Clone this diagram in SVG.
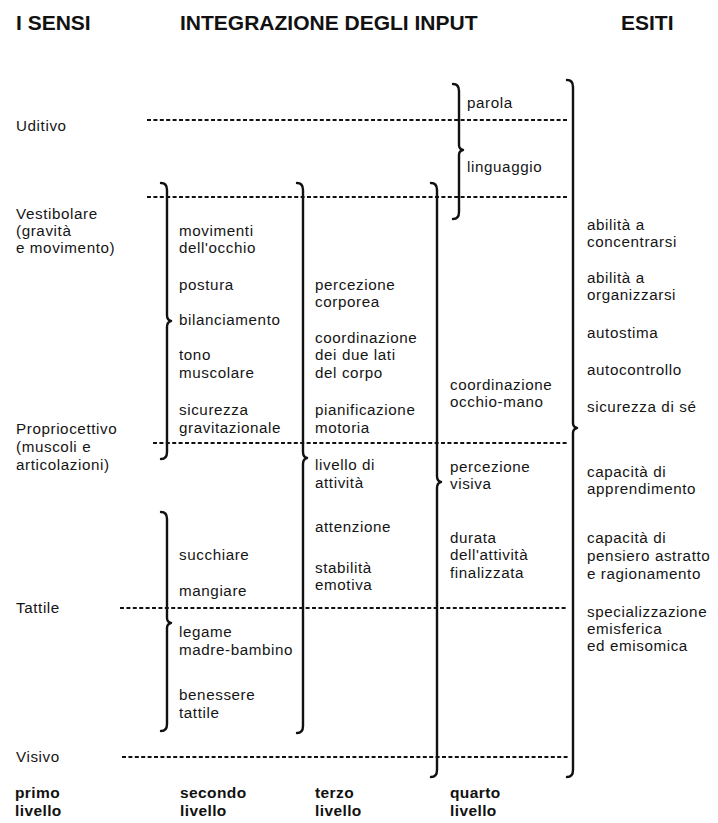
<svg xmlns="http://www.w3.org/2000/svg" width="718" height="823" viewBox="0 0 718 823">
  <style>
    .head { font-family: "Liberation Sans", Arial, sans-serif; font-weight: bold; font-size: 21px; fill: #111; }
    .lvl { font-family: "Liberation Sans", Arial, sans-serif; font-weight: bold; font-size: 15.5px; letter-spacing: 0.4px; fill: #111; }
    .t { font-family: "Liberation Sans", Arial, sans-serif; font-size: 15.2px; letter-spacing: 0.6px; fill: #151515; }
    .dot { stroke: #111; stroke-width: 2; stroke-dasharray: 4 2.4; fill: none; }
    .brace { stroke: #111; stroke-width: 2.4; fill: none; stroke-linecap: round; stroke-linejoin: round; }
  </style>
  <rect width="718" height="823" fill="#ffffff"/>

  <!-- column headers -->
  <g id="headers">
    <text class="head" x="16" y="30">I SENSI</text>
    <text class="head" x="180" y="30">INTEGRAZIONE DEGLI INPUT</text>
    <text class="head" x="621" y="30">ESITI</text>
  </g>

  <!-- senses (first column) -->
  <g id="sense-uditivo"><text class="t" x="16" y="131">Uditivo</text></g>
  <g id="sense-vestibolare">
    <text class="t" x="16" y="219">Vestibolare</text>
    <text class="t" x="16" y="236">(gravità</text>
    <text class="t" x="16" y="253">e movimento)</text>
  </g>
  <g id="sense-propriocettivo">
    <text class="t" x="16" y="434">Propriocettivo</text>
    <text class="t" x="16" y="452">(muscoli e</text>
    <text class="t" x="16" y="470">articolazioni)</text>
  </g>
  <g id="sense-tattile"><text class="t" x="16" y="613">Tattile</text></g>
  <g id="sense-visivo"><text class="t" x="16" y="762">Visivo</text></g>

  <!-- second level -->
  <g id="l2-vestibolare">
    <text class="t" x="179" y="236">movimenti</text>
    <text class="t" x="179" y="253">dell'occhio</text>
    <text class="t" x="179" y="290">postura</text>
    <text class="t" x="179" y="325">bilanciamento</text>
    <text class="t" x="179" y="360">tono</text>
    <text class="t" x="179" y="378">muscolare</text>
    <text class="t" x="179" y="415">sicurezza</text>
    <text class="t" x="179" y="433">gravitazionale</text>
  </g>
  <g id="l2-tattile">
    <text class="t" x="179" y="560">succhiare</text>
    <text class="t" x="179" y="596">mangiare</text>
    <text class="t" x="179" y="637">legame</text>
    <text class="t" x="179" y="655">madre-bambino</text>
    <text class="t" x="179" y="700">benessere</text>
    <text class="t" x="179" y="718">tattile</text>
  </g>

  <!-- third level -->
  <g id="l3">
    <text class="t" x="315" y="290">percezione</text>
    <text class="t" x="315" y="307">corporea</text>
    <text class="t" x="315" y="343">coordinazione</text>
    <text class="t" x="315" y="360">dei due lati</text>
    <text class="t" x="315" y="378">del corpo</text>
    <text class="t" x="315" y="415">pianificazione</text>
    <text class="t" x="315" y="433">motoria</text>
    <text class="t" x="315" y="470">livello di</text>
    <text class="t" x="315" y="488">attività</text>
    <text class="t" x="315" y="532">attenzione</text>
    <text class="t" x="315" y="573">stabilità</text>
    <text class="t" x="315" y="590">emotiva</text>
  </g>

  <!-- fourth level -->
  <g id="l4-linguaggio">
    <text class="t" x="467" y="108">parola</text>
    <text class="t" x="467" y="172">linguaggio</text>
  </g>
  <g id="l4">
    <text class="t" x="450" y="390">coordinazione</text>
    <text class="t" x="450" y="407">occhio-mano</text>
    <text class="t" x="450" y="472">percezione</text>
    <text class="t" x="450" y="489">visiva</text>
    <text class="t" x="450" y="543">durata</text>
    <text class="t" x="450" y="560">dell'attività</text>
    <text class="t" x="450" y="578">finalizzata</text>
  </g>

  <!-- outcomes -->
  <g id="esiti">
    <text class="t" x="587" y="230">abilità a</text>
    <text class="t" x="587" y="247">concentrarsi</text>
    <text class="t" x="587" y="283">abilità a</text>
    <text class="t" x="587" y="300">organizzarsi</text>
    <text class="t" x="587" y="338">autostima</text>
    <text class="t" x="587" y="375">autocontrollo</text>
    <text class="t" x="587" y="412">sicurezza di sé</text>
    <text class="t" x="587" y="477">capacità di</text>
    <text class="t" x="587" y="494">apprendimento</text>
    <text class="t" x="587" y="543">capacità di</text>
    <text class="t" x="587" y="561">pensiero astratto</text>
    <text class="t" x="587" y="579">e ragionamento</text>
    <text class="t" x="587" y="617">specializzazione</text>
    <text class="t" x="587" y="634">emisferica</text>
    <text class="t" x="587" y="651">ed emisomica</text>
  </g>

  <!-- level captions -->
  <g id="levels">
    <text class="lvl" x="15" y="798">primo</text>
    <text class="lvl" x="15" y="816">livello</text>
    <text class="lvl" x="180" y="798">secondo</text>
    <text class="lvl" x="180" y="816">livello</text>
    <text class="lvl" x="315" y="798">terzo</text>
    <text class="lvl" x="315" y="816">livello</text>
    <text class="lvl" x="450" y="798">quarto</text>
    <text class="lvl" x="450" y="816">livello</text>
  </g>

  <!-- connectors: dotted sense lines and grouping braces -->
  <g id="connectors">
    <line class="dot" x1="147" y1="120" x2="568" y2="120"/>
    <line class="dot" x1="147" y1="197" x2="568" y2="197"/>
    <line class="dot" x1="153" y1="443" x2="568" y2="443"/>
    <line class="dot" x1="120" y1="608" x2="568" y2="608"/>
    <line class="dot" x1="122" y1="757" x2="568" y2="757"/>

    <!-- second level, vestibular/proprioceptive -->
    <path class="brace" d="M161,183 Q167,183 167,190 L167,315 Q167,320 171,321 Q167,322 167,327 L167,452 Q167,459 161,459"/>
    <!-- second level, tactile -->
    <path class="brace" d="M161,512 Q167,512 167,519 L167,618 Q167,622 171,623 Q167,624 167,628 L167,724 Q167,731 161,731"/>
    <!-- third level -->
    <path class="brace" d="M297,183 Q303,183 303,190 L303,452 Q303,457 307,458 Q303,459 303,464 L303,726 Q303,733 297,733"/>
    <!-- fourth level -->
    <path class="brace" d="M431,183 Q437,183 437,190 L437,476 Q437,481 441,482 Q437,483 437,488 L437,770 Q437,777 431,777"/>
    <!-- speech / language -->
    <path class="brace" d="M453,84 Q459,84 459,91 L459,145 Q459,149 463,150 Q459,151 459,155 L459,212 Q459,219 453,219"/>
    <!-- outcomes -->
    <path class="brace" d="M567,80 Q573,80 573,87 L573,423 Q573,427 577,428 Q573,429 573,433 L573,770 Q573,777 567,777"/>
  </g>
</svg>
